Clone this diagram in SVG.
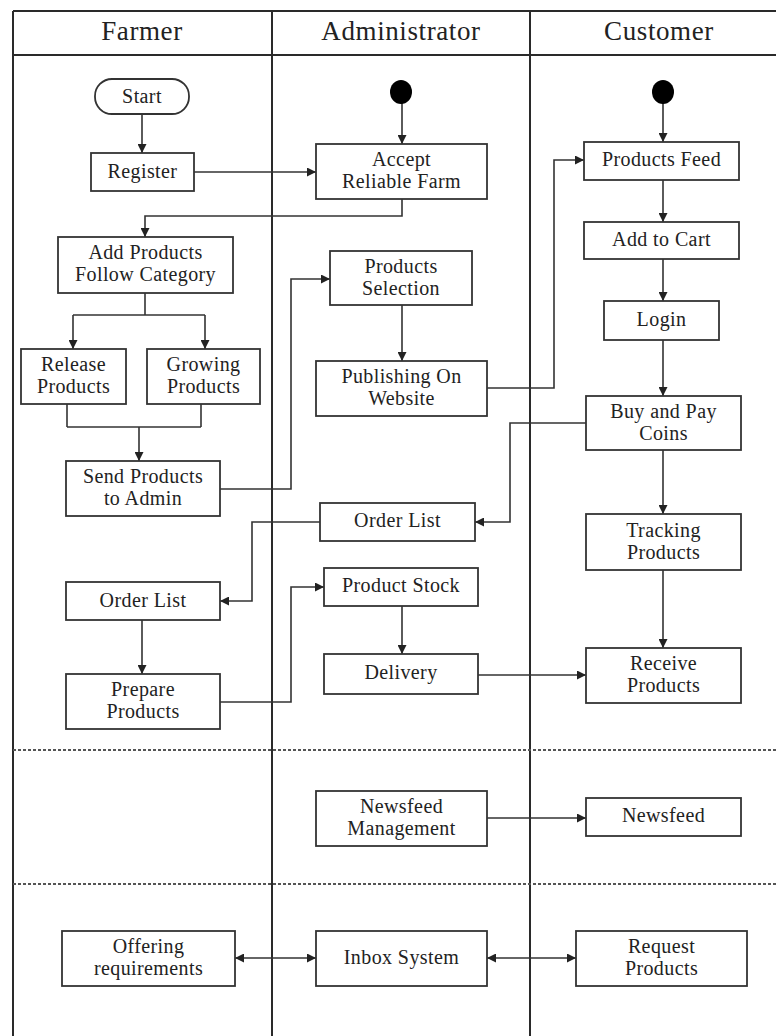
<svg xmlns="http://www.w3.org/2000/svg" width="776" height="1036" viewBox="0 0 776 1036">
<style>
.lane{stroke:#2a2a2a;stroke-width:2;fill:none}
.dash{stroke:#555;stroke-width:2;stroke-dasharray:3 2;fill:none}
.box{fill:#fff;stroke:#333;stroke-width:1.8}
.t{font-family:"Liberation Serif","Times New Roman",serif;font-size:20px;fill:#222;text-anchor:middle;letter-spacing:0.4px}
.h{font-family:"Liberation Serif","Times New Roman",serif;font-size:27px;fill:#222;text-anchor:middle;letter-spacing:0.6px}
.c{stroke:#333;stroke-width:1.6;fill:none}
.a{marker-end:url(#arr)}
.b{marker-start:url(#arr);marker-end:url(#arr)}
</style>
<defs>
<marker id="arr" viewBox="0 0 10 10" refX="10" refY="5" markerWidth="9" markerHeight="9" markerUnits="userSpaceOnUse" orient="auto-start-reverse">
<path d="M0,0 L10,5 L0,10 z" fill="#222"/>
</marker>
</defs>
<rect width="776" height="1036" fill="#fff"/>
<g id="swimlanes">
<line class="lane" x1="13" y1="11" x2="776" y2="11"/>
<line class="lane" x1="13" y1="55" x2="776" y2="55"/>
<line class="lane" x1="13" y1="11" x2="13" y2="1036"/>
<line class="lane" x1="272" y1="11" x2="272" y2="1036"/>
<line class="lane" x1="530" y1="11" x2="530" y2="1036"/>
<line class="dash" x1="13" y1="750" x2="776" y2="750"/>
<line class="dash" x1="13" y1="884" x2="776" y2="884"/>
<text class="h" x="142" y="40">Farmer</text>
<text class="h" x="401" y="40">Administrator</text>
<text class="h" x="659" y="40">Customer</text>
</g>
<g id="connectors">
<line class="c a" x1="142" y1="114" x2="142" y2="153"/>
<line class="c a" x1="194" y1="172" x2="316" y2="172"/>
<polyline class="c a" points="402,199 402,216 145,216 145,237"/>
<polyline class="c" points="145,293 145,315"/>
<line class="c" x1="73" y1="315" x2="205" y2="315"/>
<line class="c a" x1="73" y1="315" x2="73" y2="349"/>
<line class="c a" x1="205" y1="315" x2="205" y2="349"/>
<line class="c" x1="67" y1="404" x2="67" y2="427"/>
<line class="c" x1="201" y1="404" x2="201" y2="427"/>
<line class="c" x1="67" y1="427" x2="201" y2="427"/>
<line class="c a" x1="139" y1="427" x2="139" y2="461"/>
<polyline class="c a" points="220,489 291,489 291,279 330,279"/>
<line class="c a" x1="402" y1="305" x2="402" y2="361"/>
<polyline class="c a" points="487,388 554,388 554,160 584,160"/>
<line class="c a" x1="402" y1="103" x2="402" y2="144"/>
<line class="c a" x1="663" y1="103" x2="663" y2="142"/>
<line class="c a" x1="663" y1="180" x2="663" y2="222"/>
<line class="c a" x1="663" y1="259" x2="663" y2="301"/>
<line class="c a" x1="663" y1="340" x2="663" y2="396"/>
<polyline class="c a" points="586,423 510,423 510,522 475,522"/>
<line class="c a" x1="663" y1="450" x2="663" y2="514"/>
<line class="c a" x1="663" y1="570" x2="663" y2="648"/>
<polyline class="c a" points="320,522 252,522 252,601 220,601"/>
<line class="c a" x1="142" y1="620" x2="142" y2="674"/>
<polyline class="c a" points="220,702 291,702 291,587 324,587"/>
<line class="c a" x1="402" y1="606" x2="402" y2="654"/>
<line class="c a" x1="478" y1="675" x2="586" y2="675"/>
<line class="c a" x1="487" y1="818" x2="586" y2="818"/>
<line class="c b" x1="235" y1="958" x2="316" y2="958"/>
<line class="c b" x1="487" y1="958" x2="576" y2="958"/>
</g>
<g id="start">
<rect class="box" x="95" y="79" width="94" height="35" rx="17"/>
<text class="t" x="142" y="103">Start</text>
</g>
<g id="admin-initial"><ellipse cx="401" cy="92" rx="11" ry="12" fill="#000"/></g>
<g id="customer-initial"><ellipse cx="663" cy="92" rx="11" ry="12" fill="#000"/></g>
<g id="register">
<rect class="box" x="91" y="153" width="103" height="38"/>
<text class="t" x="142.5" y="178">Register</text>
</g>
<g id="add-products">
<rect class="box" x="58" y="237" width="175" height="56"/>
<text class="t" x="145.5" y="259">Add Products</text>
<text class="t" x="145.5" y="281">Follow Category</text>
</g>
<g id="release-products">
<rect class="box" x="21" y="349" width="105" height="55"/>
<text class="t" x="73.5" y="371">Release</text>
<text class="t" x="73.5" y="393">Products</text>
</g>
<g id="growing-products">
<rect class="box" x="147" y="349" width="113" height="55"/>
<text class="t" x="203.5" y="371">Growing</text>
<text class="t" x="203.5" y="393">Products</text>
</g>
<g id="send-products">
<rect class="box" x="66" y="461" width="154" height="55"/>
<text class="t" x="143" y="483">Send Products</text>
<text class="t" x="143" y="505">to Admin</text>
</g>
<g id="farmer-order-list">
<rect class="box" x="66" y="582" width="154" height="38"/>
<text class="t" x="143" y="607">Order List</text>
</g>
<g id="prepare-products">
<rect class="box" x="66" y="674" width="154" height="55"/>
<text class="t" x="143" y="696">Prepare</text>
<text class="t" x="143" y="718">Products</text>
</g>
<g id="offering-requirements">
<rect class="box" x="62" y="931" width="173" height="55"/>
<text class="t" x="148.5" y="953">Offering</text>
<text class="t" x="148.5" y="975">requirements</text>
</g>
<g id="accept-farm">
<rect class="box" x="316" y="144" width="171" height="55"/>
<text class="t" x="401.5" y="166">Accept</text>
<text class="t" x="401.5" y="188">Reliable Farm</text>
</g>
<g id="products-selection">
<rect class="box" x="330" y="251" width="142" height="54"/>
<text class="t" x="401" y="273">Products</text>
<text class="t" x="401" y="295">Selection</text>
</g>
<g id="publishing">
<rect class="box" x="316" y="361" width="171" height="55"/>
<text class="t" x="401.5" y="383">Publishing On</text>
<text class="t" x="401.5" y="405">Website</text>
</g>
<g id="admin-order-list">
<rect class="box" x="320" y="503" width="155" height="38"/>
<text class="t" x="397.5" y="527">Order List</text>
</g>
<g id="product-stock">
<rect class="box" x="324" y="568" width="154" height="38"/>
<text class="t" x="401" y="592">Product Stock</text>
</g>
<g id="delivery">
<rect class="box" x="324" y="654" width="154" height="40"/>
<text class="t" x="401" y="679">Delivery</text>
</g>
<g id="newsfeed-management">
<rect class="box" x="316" y="791" width="171" height="55"/>
<text class="t" x="401.5" y="813">Newsfeed</text>
<text class="t" x="401.5" y="835">Management</text>
</g>
<g id="inbox-system">
<rect class="box" x="316" y="931" width="171" height="55"/>
<text class="t" x="401.5" y="964">Inbox System</text>
</g>
<g id="products-feed">
<rect class="box" x="584" y="142" width="155" height="38"/>
<text class="t" x="661.5" y="166">Products Feed</text>
</g>
<g id="add-to-cart">
<rect class="box" x="584" y="222" width="155" height="37"/>
<text class="t" x="661.5" y="246">Add to Cart</text>
</g>
<g id="login">
<rect class="box" x="604" y="301" width="115" height="39"/>
<text class="t" x="661.5" y="326">Login</text>
</g>
<g id="buy-and-pay">
<rect class="box" x="586" y="396" width="155" height="54"/>
<text class="t" x="663.5" y="418">Buy and Pay</text>
<text class="t" x="663.5" y="440">Coins</text>
</g>
<g id="tracking-products">
<rect class="box" x="586" y="514" width="155" height="56"/>
<text class="t" x="663.5" y="537">Tracking</text>
<text class="t" x="663.5" y="559">Products</text>
</g>
<g id="receive-products">
<rect class="box" x="586" y="648" width="155" height="55"/>
<text class="t" x="663.5" y="670">Receive</text>
<text class="t" x="663.5" y="692">Products</text>
</g>
<g id="newsfeed">
<rect class="box" x="586" y="798" width="155" height="38"/>
<text class="t" x="663.5" y="822">Newsfeed</text>
</g>
<g id="request-products">
<rect class="box" x="576" y="931" width="171" height="55"/>
<text class="t" x="661.5" y="953">Request</text>
<text class="t" x="661.5" y="975">Products</text>
</g>
</svg>
